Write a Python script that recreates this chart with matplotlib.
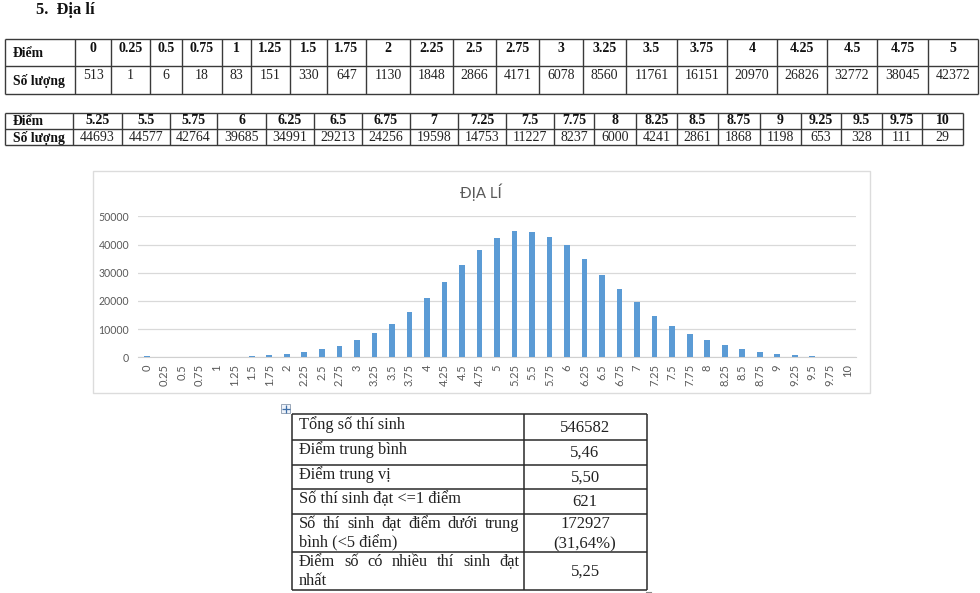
#! coding: utf-8
"""
Score distribution page for Dia li: two score tables, bar chart, summary table.
"""
import matplotlib
matplotlib.use("Agg")
import matplotlib.pyplot as plt
from matplotlib.patches import Rectangle
from matplotlib.transforms import ScaledTranslation

SERIF = "Liberation Serif"
CHART_FONT = "Lato"

scores_1 = ["0", "0.25", "0.5", "0.75", "1", "1.25", "1.5", "1.75", "2", "2.25", "2.5",
            "2.75", "3", "3.25", "3.5", "3.75", "4", "4.25", "4.5", "4.75", "5"]
counts_1 = [513, 1, 6, 18, 83, 151, 330, 647, 1130, 1848, 2866,
            4171, 6078, 8560, 11761, 16151, 20970, 26826, 32772, 38045, 42372]
scores_2 = ["5.25", "5.5", "5.75", "6", "6.25", "6.5", "6.75", "7", "7.25", "7.5",
            "7.75", "8", "8.25", "8.5", "8.75", "9", "9.25", "9.5", "9.75", "10"]
counts_2 = [44693, 44577, 42764, 39685, 34991, 29213, 24256, 19598, 14753, 11227,
            8237, 6000, 4241, 2861, 1868, 1198, 653, 328, 111, 29]

# column and row edges of the tables, in pixels of the page
edges_1 = [5, 75, 111, 150, 182, 222, 251, 290, 327, 366, 410, 453, 496, 539, 583,
           626, 677, 727, 777, 827, 877, 928, 978]
rows_1 = [38.5, 66, 93.5]
edges_2 = [5, 73, 122, 170, 217, 266, 314, 362, 410, 458, 506, 554, 594, 636, 677,
           718, 760, 801, 841, 882, 922, 963]
rows_2 = [112.5, 129, 145]

summary_labels = [["Tổng số thí sinh"], ["Điểm trung bình"], ["Điểm trung vị"],
                  ["Số thí sinh đạt <=1 điểm"],
                  ["Số thí sinh đạt điểm dưới trung", "bình (<5 điểm)"],
                  ["Điểm số có nhiều thí sinh đạt", "nhất"]]
summary_values = [["546582"], ["5,46"], ["5,50"], ["621"], ["172927", "(31,64%)"], ["5,25"]]
summary_cols = [292, 524, 647]
summary_rows = [414, 440, 465, 489, 514, 552, 590]

W, H = 980, 593
fig = plt.figure(figsize=(W / 100.0, H / 100.0), dpi=100)
page = fig.add_axes([0, 0, 1, 1])
page.set_xlim(0, W)
page.set_ylim(H, 0)
page.axis("off")


def grid(xs, ys, color="#3a3a3a", lw=1.0):
	page.vlines(xs, ys[0], ys[-1], color=color, lw=lw)
	page.hlines(ys, xs[0], xs[-1], color=color, lw=lw)


def justify(words, x0, x1, y, size):
	# spread the words over the cell like a justified Word paragraph
	r = fig.canvas.get_renderer()
	items = [page.text(x0, y, w, fontsize=size, family=SERIF, color="#222222", va="center") for w in words]
	widths = [t.get_window_extent(r).width for t in items]
	gap = (x1 - x0 - sum(widths)) / float(len(words) - 1)
	x = x0
	for t, w in zip(items, widths):
		t.set_x(x)
		x += w + gap


def scoreTable(xs, ys, scores, counts, first_dy, second_dy):
	grid(xs, ys)
	mid = [(a + b) / 2.0 for a, b in zip(xs[1:], xs[2:])]
	page.text(13, (ys[0] + ys[1]) / 2.0 + 1, "Điểm", fontsize=9.8, family=SERIF, weight="bold", va="center", color="#111111")
	page.text(13, (ys[1] + ys[2]) / 2.0 + 1, "Số lượng", fontsize=9.8, family=SERIF, weight="bold", va="center", color="#111111")
	for x, s, c in zip(mid, scores, counts):
		page.text(x, (ys[0] + ys[1]) / 2.0 + first_dy, s, fontsize=10, family=SERIF, weight="bold", ha="center", va="center", color="#111111")
		page.text(x, (ys[1] + ys[2]) / 2.0 + second_dy, str(c), fontsize=10, family=SERIF, ha="center", va="center", color="#222222")


page.text(36, 10, "5.  Địa lí", fontsize=11.8, family=SERIF, weight="bold", va="center", color="#111111")
scoreTable(edges_1, rows_1, scores_1, counts_1, -4, -4)
scoreTable(edges_2, rows_2, scores_2, counts_2, 0, 0.5)

# chart frame, then the chart itself in its own axes
page.add_patch(Rectangle((92.5, 170.5), 777, 222, fc="white", ec="#dcdcdc", lw=1.0))
page.text(480.5, 192, "ĐỊA LÍ", fontsize=10.8, family=CHART_FONT, color="#595959", ha="center", va="center")

left, right, top, bottom = 138.0, 856.0, 216.3, 357.3
ax = fig.add_axes([left / W, 1 - bottom / H, (right - left) / W, (bottom - top) / H])
ax.patch.set_alpha(0)
scores = scores_1 + scores_2
counts = counts_1 + counts_2
ax.bar(range(len(scores)), counts, width=0.33, color="#5B9BD5", zorder=3)
ax.set_xlim(-0.5, len(scores) - 0.5)
ax.set_ylim(0, 50000)
ax.set_yticks(range(0, 50001, 10000))
ax.set_xticks(range(len(scores)))
ax.set_xticklabels(scores, rotation=90, va="top", ha="center", fontsize=8, family=CHART_FONT, color="#595959")
# the labels sit a little right of their bars
nudge = ScaledTranslation(2.5 / 72.0, 0, fig.dpi_scale_trans)
for label in ax.get_xticklabels():
	label.set_transform(label.get_transform() + nudge)
for label in ax.get_yticklabels():
	label.set_fontsize(7.6)
	label.set_family(CHART_FONT)
	label.set_color("#595959")
ax.tick_params(axis="both", length=0)
ax.tick_params(axis="x", pad=5)
ax.tick_params(axis="y", pad=6.5)
ax.yaxis.grid(True, color="#d9d9d9", lw=0.9, zorder=0)
for name in ["top", "left", "right"]:
	ax.spines[name].set_visible(False)
ax.spines["bottom"].set_color("#d0d0d0")

# Word table move handle
page.add_patch(Rectangle((281, 404), 9, 9, fc="#eef3fa", ec="#9aa7b8", lw=0.7))
page.plot([285.5], [408.5], marker="+", ms=6, mew=0.9, color="#3f6fa8")

# summary table
grid(summary_cols, summary_rows, color="#2a2a2a", lw=1.1)
page.plot([646, 651], [592, 592], color="#888888", lw=0.8)
text_x = 299
for i, (labels, values) in enumerate(zip(summary_labels, summary_values)):
	y0, y1 = summary_rows[i], summary_rows[i + 1]
	if len(labels) == 1:
		page.text(text_x, (y0 + y1) / 2.0 - 2.5, labels[0], fontsize=11.8, family=SERIF, va="center", color="#222222")
	else:
		justify(labels[0].split(), text_x, 519, y0 + 9.5, 11.8)
		page.text(text_x, y0 + 29, labels[1], fontsize=11.8, family=SERIF, va="center", color="#222222")
	if len(values) == 1:
		page.text(585, (y0 + y1) / 2.0 + 0.5, values[0], fontsize=12, family=SERIF, ha="center", va="center", color="#222222")
	else:
		page.text(585, y0 + 10, values[0], fontsize=12, family=SERIF, ha="center", va="center", color="#222222")
		page.text(585, y0 + 30, values[1], fontsize=12, family=SERIF, ha="center", va="center", color="#222222")

fig.savefig("out.png", dpi=100)
